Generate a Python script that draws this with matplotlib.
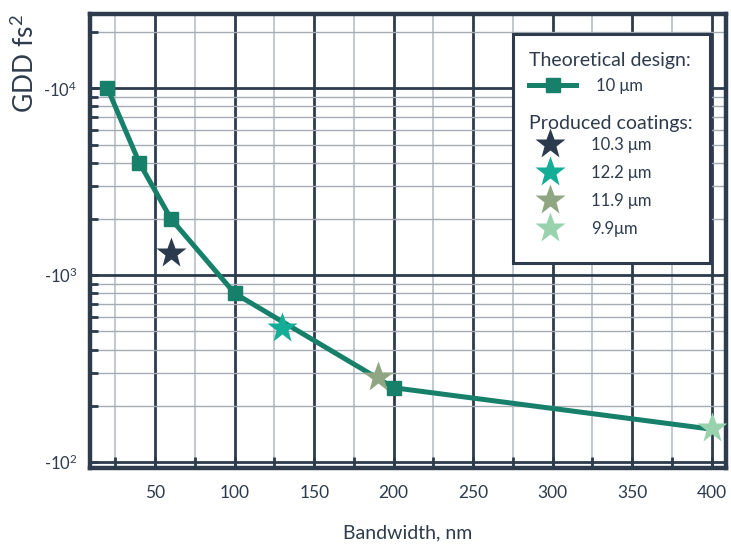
import matplotlib
matplotlib.use('Agg')
import matplotlib.pyplot as plt
from matplotlib.ticker import FixedLocator, FixedFormatter, LogLocator, NullFormatter
from matplotlib.lines import Line2D
from matplotlib.patches import Rectangle

plt.rcParams['font.family'] = ['Lato', 'DejaVu Sans']
plt.rcParams['mathtext.fontset'] = 'custom'
plt.rcParams['mathtext.rm'] = 'Lato'
plt.rcParams['mathtext.it'] = 'Lato'

# ---- data ----
design_bw = [20, 40, 60, 100, 200, 400]
design_gdd = [10000, 4000, 2000, 800, 250, 150]
design_label = '10 μm'

coat_bw = [60, 130, 190, 400]
coat_gdd = [1320, 520, 285, 152]
coat_labels = ['10.3 μm', '12.2 μm', '11.9 μm', '9.9μm']
coat_colors = ['#2b3a4d', '#14ad98', '#90a683', '#98d3ae']

x_tick_vals = [50, 100, 150, 200, 250, 300, 350, 400]
x_tick_labels = ['50', '100', '150', '200', '250', '300', '350', '400']
y_tick_vals = [100, 1000, 10000]
y_tick_labels = ['-10$^{2}$', '-10$^{3}$', '-10$^{4}$']

dark = '#2d3b4c'
line_color = '#17806a'

fig = plt.figure(figsize=(7.31, 5.45), dpi=100)
ax = fig.add_axes([90/731, (545-468)/545, 636/731, 454/545])

ax.set_yscale('log')
ax.set_xlim(9, 409)
ax.set_ylim(93, 25000)

# grid
ax.xaxis.set_major_locator(FixedLocator(x_tick_vals))
ax.xaxis.set_major_formatter(FixedFormatter(x_tick_labels))
ax.xaxis.set_minor_locator(FixedLocator([25, 75, 125, 175, 225, 275, 325, 375]))
ax.yaxis.set_major_locator(FixedLocator(y_tick_vals))
ax.yaxis.set_major_formatter(FixedFormatter(y_tick_labels))
ax.yaxis.set_minor_locator(LogLocator(base=10, subs=range(2, 10)))
ax.yaxis.set_minor_formatter(NullFormatter())

ax.grid(True, which='major', axis='both', color=dark, lw=2.0, zorder=1)
ax.grid(True, which='minor', axis='x', color='#c3c8ce', lw=1.4, zorder=1)
ax.grid(True, which='minor', axis='y', color='#a3abb4', lw=1.0, zorder=1)
ax.set_axisbelow(True)

for s in ax.spines.values():
    s.set_color(dark)
    s.set_linewidth(3.2)

ax.tick_params(axis='x', which='both', direction='in', length=8, width=2, color=dark,
               labelsize=12.5, labelcolor=dark, pad=12)
ax.tick_params(axis='y', which='both', direction='in', length=6, width=2, color=dark,
               labelsize=12, labelcolor=dark, pad=9)

# data
ax.plot(design_bw, design_gdd, color=line_color, lw=3.6, zorder=3,
        solid_capstyle='round')
for x, y, c in zip(coat_bw, coat_gdd, coat_colors):
    ax.plot([x], [y], marker='*', ms=23, color=c, mec='none', ls='none', zorder=4)
ax.plot(design_bw, design_gdd, ls='none', marker='s', ms=10, color=line_color,
        markevery=[0, 1, 2, 3, 4], zorder=5)

ax.set_xlabel('Bandwidth, nm', fontsize=14, color=dark, labelpad=17)
ax.set_ylabel('GDD fs$^{2}$', fontsize=19, color=dark)
ax.yaxis.label.set_va('center')
ax.yaxis.label.set_ha('center')
ax.yaxis.set_label_coords(-0.102, 0.89)

# legend
frame = Rectangle((0.665, 0.452), 0.31, 0.503, transform=ax.transAxes,
                  facecolor='white', edgecolor=dark, lw=2.2, zorder=6)
ax.add_patch(frame)

h1 = [Line2D([], [], color=line_color, lw=3.6, marker='s', ms=10)]
leg1 = ax.legend(h1, [design_label], loc='upper left', bbox_to_anchor=(0.67, 0.945),
                 title='Theoretical design:', frameon=False, fontsize=12,
                 title_fontsize=14, alignment='left', handlelength=2.8,
                 handletextpad=1.2, borderpad=0.3, labelcolor=dark)
leg1.get_title().set_color(dark)
leg1.set_zorder(7)
ax.add_artist(leg1)

ax.text(0.69, 0.758, 'Produced coatings:', transform=ax.transAxes, fontsize=14,
        color=dark, ha='left', va='center', zorder=8)

h2 = [Line2D([], [], ls='none', marker='*', ms=23, color=c, mec='none') for c in coat_colors]
leg2 = ax.legend(h2, coat_labels, loc='upper left', bbox_to_anchor=(0.67, 0.758),
                 frameon=False, fontsize=12, handlelength=2.52,
                 handletextpad=1.16, labelspacing=0.72, borderpad=0.3, labelcolor=dark)
leg2.set_zorder(7)

fig.savefig('out.png', dpi=100)
